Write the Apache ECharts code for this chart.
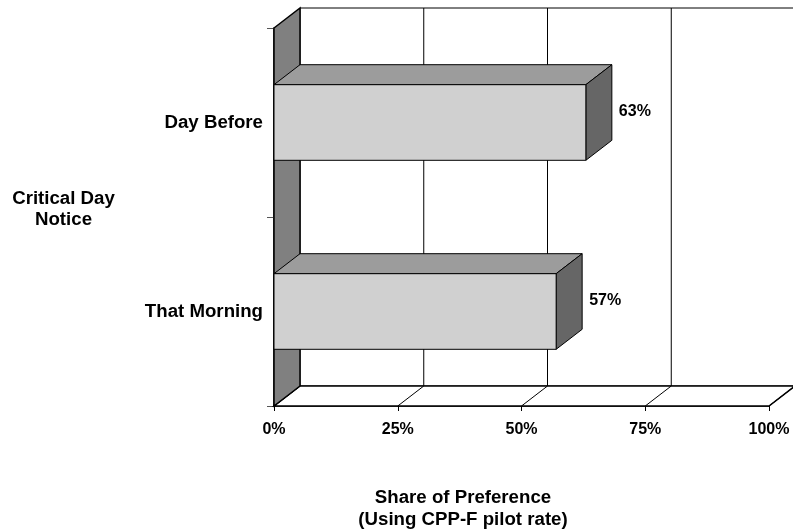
<!DOCTYPE html>
<html>
<head>
<meta charset="utf-8">
<script src="https://cdn.jsdelivr.net/npm/echarts@6/dist/echarts.min.js"></script>
<style>
  html, body { margin: 0; padding: 0; background: #ffffff; }
  #chart { width: 793px; height: 531px; }
</style>
</head>
<body>
<div id="chart"></div>
<script>
// Notice options and their share of preference (%)
const categories = ['Day Before', 'That Morning'];
const shares = [63, 57];
const xTicks = [0, 25, 50, 75, 100];

// Depth of the pseudo-3D box (pixels to the right / upward)
const DX = 26, DY = -20;
const FONT = 'Liberation Sans, Arial, sans-serif';

const chart = echarts.init(document.getElementById('chart'), null, { renderer: 'canvas' });

// Back wall, left wall and floor of the box, built from the grid's own scale
function renderBox(params, api) {
  const cs = params.coordSys;
  const x0 = cs.x, y0 = cs.y, yb = cs.y + cs.height;
  const xEnd = api.coord([xTicks[xTicks.length - 1], 0])[0];
  const children = [];
  // back wall
  children.push({
    type: 'polygon',
    shape: { points: [[x0 + DX, y0 + DY], [xEnd + DX, y0 + DY], [xEnd + DX, yb + DY], [x0 + DX, yb + DY]] },
    style: { fill: '#ffffff', stroke: '#000000', lineWidth: 1 }
  });
  // gridlines on back wall
  xTicks.slice(1, -1).forEach(function (t) {
    const x = api.coord([t, 0])[0] + DX;
    children.push({
      type: 'line',
      shape: { x1: x, y1: y0 + DY, x2: x, y2: yb + DY },
      style: { stroke: '#000000', lineWidth: 1 }
    });
  });
  // floor
  children.push({
    type: 'polygon',
    shape: { points: [[x0, yb], [xEnd, yb], [xEnd + DX, yb + DY], [x0 + DX, yb + DY]] },
    style: { fill: '#ffffff', stroke: '#000000', lineWidth: 1.5 }
  });
  xTicks.forEach(function (t) {
    const x = api.coord([t, 0])[0];
    children.push({
      type: 'line',
      shape: { x1: x, y1: yb, x2: x + DX, y2: yb + DY },
      style: { stroke: '#000000', lineWidth: 1 }
    });
  });
  // left wall
  children.push({
    type: 'polygon',
    shape: { points: [[x0, y0], [x0 + DX, y0 + DY], [x0 + DX, yb + DY], [x0, yb]] },
    style: { fill: '#808080', stroke: '#000000', lineWidth: 1.5 }
  });
  return { type: 'group', children: children };
}

// One 3D bar: front face, top face, side face and value label
function renderBar(params, api) {
  const v = api.value(0);
  const cat = api.value(1);
  const start = api.coord([0, cat]);
  const end = api.coord([v, cat]);
  const band = api.size([0, 1])[1];
  const h = band * 0.4;
  const xa = start[0], xb = end[0];
  const yt = start[1] - h / 2, yb = start[1] + h / 2;
  const stroke = { stroke: '#000000', lineWidth: 1 };
  return {
    type: 'group',
    children: [
      {
        type: 'polygon',
        shape: { points: [[xa, yt], [xb, yt], [xb + DX, yt + DY], [xa + DX, yt + DY]] },
        style: Object.assign({ fill: '#9c9c9c' }, stroke)
      },
      {
        type: 'polygon',
        shape: { points: [[xb, yt], [xb + DX, yt + DY], [xb + DX, yb + DY], [xb, yb]] },
        style: Object.assign({ fill: '#666666' }, stroke)
      },
      {
        type: 'rect',
        shape: { x: xa, y: yt, width: xb - xa, height: yb - yt },
        style: Object.assign({ fill: '#d0d0d0' }, stroke)
      },
      {
        type: 'text',
        x: xb + DX + 7,
        y: start[1] + DY / 2 - 1,
        style: {
          text: v + '%',
          fill: '#000000',
          font: 'bold 16px ' + FONT,
          align: 'left',
          verticalAlign: 'middle'
        }
      }
    ]
  };
}

const option = {
  backgroundColor: '#ffffff',
  animation: false,
  grid: { left: 274, top: 28, width: 495, height: 378, containLabel: false },
  xAxis: {
    type: 'value',
    min: 0,
    max: 100,
    interval: 25,
    axisLine: { show: true, lineStyle: { color: '#000000', width: 1.5 } },
    axisTick: { show: true, length: 5, lineStyle: { color: '#000000' } },
    splitLine: { show: false },
    axisLabel: {
      formatter: '{value}%',
      color: '#000000',
      fontFamily: FONT,
      fontWeight: 'bold',
      fontSize: 16,
      margin: 16
    }
  },
  yAxis: {
    type: 'category',
    data: categories,
    inverse: true,
    axisLine: { show: true, lineStyle: { color: '#000000', width: 1.5 } },
    axisTick: { show: true, length: 7, lineStyle: { color: '#555555' } },
    axisLabel: {
      color: '#000000',
      fontFamily: FONT,
      fontWeight: 'bold',
      fontSize: 18.67,
      margin: 11
    }
  },
  graphic: [
    {
      type: 'text',
      x: 63.5,
      y: 209.5,
      style: {
        text: 'Critical Day\nNotice',
        fill: '#000000',
        font: 'bold 18.67px ' + FONT,
        lineHeight: 21,
        align: 'center',
        verticalAlign: 'middle'
      }
    },
    {
      type: 'text',
      x: 463,
      y: 509,
      style: {
        text: 'Share of Preference\n(Using CPP-F pilot rate)',
        fill: '#000000',
        font: 'bold 18.67px ' + FONT,
        lineHeight: 22,
        align: 'center',
        verticalAlign: 'middle'
      }
    }
  ],
  series: [
    {
      type: 'custom',
      renderItem: renderBox,
      data: [[0, 0]],
      silent: true,
      z: 1
    },
    {
      type: 'custom',
      renderItem: renderBar,
      data: shares.map(function (s, i) { return [s, i]; }),
      encode: { x: 0, y: 1 },
      z: 2
    }
  ]
};

chart.setOption(option);
</script>
</body>
</html>
